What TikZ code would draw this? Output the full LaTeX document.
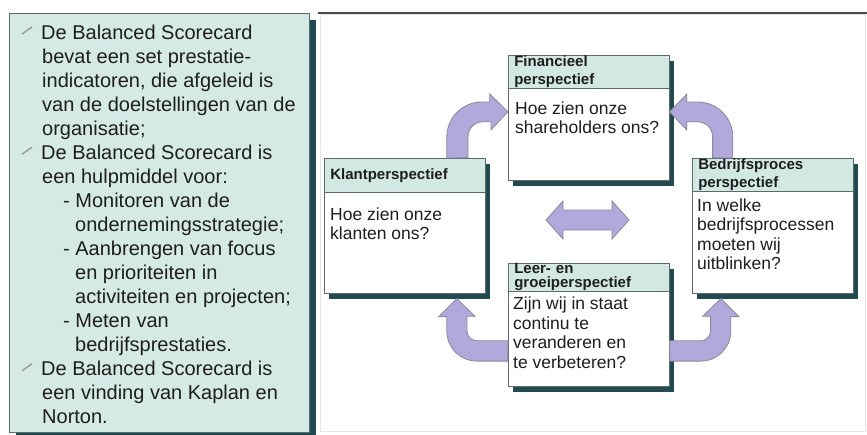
\documentclass[tikz,border=0pt]{standalone}
\usepackage{fontspec}
\setmainfont{Liberation Sans}
\usetikzlibrary{positioning,shadows}

\definecolor{bscink}{HTML}{1E1E1E}
\definecolor{bscmint}{HTML}{D6EAE5}
\definecolor{bschead}{HTML}{D2E9E3}
\definecolor{bscteal}{HTML}{1F4B51}
\definecolor{bscline}{HTML}{5E6B6B}
\definecolor{bsclilac}{HTML}{B1A9DB}
\definecolor{bscarrow}{HTML}{8A889C}
\definecolor{bscframe}{HTML}{4A4A4A}

\begin{document}
\begin{tikzpicture}[
  x=1pt,y=-1pt,
  font=\fontsize{17.5}{19.5}\selectfont,text=bscink,
  panel/.style={draw=bscline,fill=bscmint,line width=.8pt,
                drop shadow={shadow xshift=7pt,shadow yshift=-7pt,fill=bscteal,opacity=1}},
  paneltext/.style={anchor=base west,inner sep=0pt,font=\fontsize{20}{24}\selectfont},
  bulletmark/.style={draw=gray!80,line width=1.4pt},
  card/.style={draw=bscline,fill=white,line width=.6pt,anchor=north west,
               minimum width=161pt,inner sep=0pt,
               drop shadow={shadow xshift=5pt,shadow yshift=-6pt,fill=bscteal,opacity=1}},
  cardhead/.style={draw=bscline,fill=bschead,line width=.6pt,anchor=north west,
                   text width=149pt,inner xsep=6pt,inner ysep=0pt,align=left,
                   font=\bfseries\fontsize{15}{17.5}\selectfont},
  cardtext/.style={anchor=north west,inner sep=0pt,align=left},
  blockarrow/.style={draw=bscarrow,fill=bsclilac,line width=.8pt,line join=miter}
]
  \path[use as bounding box] (0,0) rectangle (867,434);

  % left text panel and right frame
  \draw[panel] (9,13) rectangle (309,432);
  \draw[draw=gray!20,line width=.6pt] (320,14) rectangle (865,431);
  \draw[bscframe,line width=1.6pt] (318,13) -- (867,13);

  \foreach \i/\x/\t in {
    0/41/{De Balanced Scorecard},
    1/42/{bevat een set prestatie-},
    2/42/{indicatoren, die afgeleid is},
    3/42/{van de doelstellingen van de},
    4/42/{organisatie;},
    5/41/{De Balanced Scorecard is},
    6/42/{een hulpmiddel voor:},
    7/63/{- Monitoren van de},
    8/75/{ondernemingsstrategie;},
    9/63/{- Aanbrengen van focus},
    10/75/{en prioriteiten in},
    11/75/{activiteiten en projecten;},
    12/63/{- Meten van},
    13/75/{bedrijfsprestaties.},
    14/41/{De Balanced Scorecard is},
    15/42/{een vinding van Kaplan en},
    16/42/{Norton.}}{
    \node[paneltext] (line\i) at (\x,{39+24.05*\i}) {\t};
  }
  \foreach \i in {0,5,14}
    \draw[bulletmark] ([shift={(-19pt,5pt)}]line\i.base west) -- ++(10,-7);

  % the four perspectives
  \node[card,minimum height=125pt] (fin) at (508,55) {};
  \node[cardhead,minimum height=33pt] (finhead) at (fin.north west)
    {Financieel\\perspectief};
  \node[cardtext,below right=13pt and 7pt of finhead.south west] (fintext)
    {Hoe zien onze\\shareholders ons?};

  \node[card,minimum height=135pt] (klant) at (324,158) {};
  \node[cardhead,minimum height=34pt] (klanthead) at (klant.north west)
    {Klantperspectief};
  \node[cardtext,below right=15pt and 6pt of klanthead.south west] (klanttext)
    {Hoe zien onze\\klanten ons?};

  \node[card,minimum height=135pt] (bedrijf) at (692,158) {};
  \node[cardhead,minimum height=33pt] (bedrijfhead) at (bedrijf.north west)
    {Bedrijfsproces\\perspectief};
  \node[cardtext,below right=7pt and 5pt of bedrijfhead.south west] (bedrijftext)
    {In welke\\bedrijfsprocessen\\moeten wij\\uitblinken?};

  \node[card,minimum height=123pt] (leer) at (508,263) {};
  \node[cardhead,minimum height=27pt,font=\bfseries\fontsize{15}{14}\selectfont]
    (leerhead) at (leer.north west) {Leer- en\\groeiperspectief};
  \node[cardtext,below right=6pt and 5pt of leerhead.south west] (leertext)
    {Zijn wij in staat\\continu te\\veranderen en\\te verbeteren?};

  % curved block arrows
  \draw[blockarrow] ([xshift=42pt]klant.north) -- ++(0,-21)
    arc[start angle=180,end angle=270,radius=35] -- ++(8,0) -- ++(0,-8)
    -- ([yshift=6pt]fin.west) -- ++(-17,18) -- ++(0,-8) -- ++(-8,0)
    arc[start angle=270,end angle=180,radius=15] -- ++(0,21) -- cycle;
  \draw[blockarrow] ([xshift=-40pt]bedrijf.north) -- ++(0,-21)
    arc[start angle=0,end angle=-90,radius=35] -- ++(-11,0) -- ++(0,-8)
    -- ([yshift=6pt]fin.east) -- ++(17,18) -- ++(0,-8) -- ++(11,0)
    arc[start angle=-90,end angle=0,radius=15] -- ++(0,21) -- cycle;
  \draw[blockarrow] ([yshift=-16pt]leer.east) -- ++(31,0)
    arc[start angle=90,end angle=0,radius=10] -- ++(0,-14.5) -- ++(-8,0)
    -- ([shift={(-52pt,-5pt)}]bedrijf.south) -- ++(18,18) -- ++(-8,0)
    -- ++(0,14.5) arc[start angle=0,end angle=90,radius=30] -- ++(-31,0) -- cycle;
  \draw[blockarrow] ([yshift=-16pt]leer.west) -- ++(-31,0)
    arc[start angle=90,end angle=180,radius=10] -- ++(0,-14.5) -- ++(8,0)
    -- ([shift={(52pt,-5pt)}]klant.south) -- ++(-18,18) -- ++(8,0)
    -- ++(0,14.5) arc[start angle=180,end angle=90,radius=30] -- ++(31,0) -- cycle;

  % double arrow in the middle
  \draw[blockarrow] (546,220) -- ++(17,-19) -- ++(0,9) -- ++(49,0) -- ++(0,-9)
    -- ++(17,19) -- ++(-17,19) -- ++(0,-9) -- ++(-49,0) -- ++(0,9) -- cycle;
\end{tikzpicture}
\end{document}
